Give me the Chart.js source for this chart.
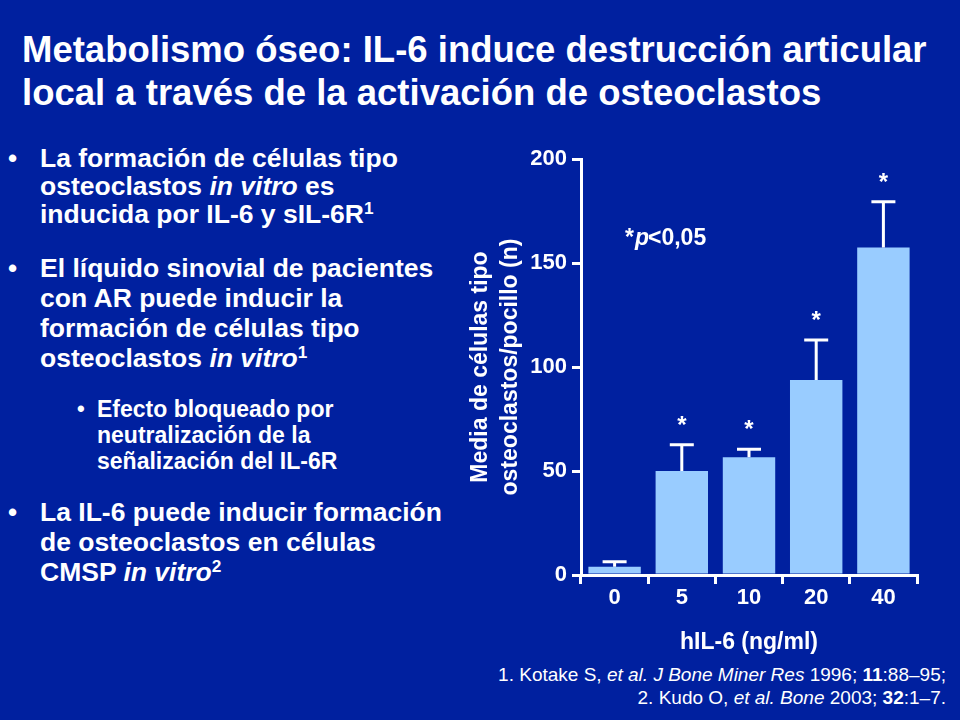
<!DOCTYPE html>
<html>
<head>
<meta charset="utf-8">
<script src="https://cdn.jsdelivr.net/npm/chart.js@4"></script>
<style>
  body { margin: 0; background: #00209f; width: 960px; height: 720px; overflow: hidden;
         font-family: "Liberation Sans", Arial, sans-serif; color: #fff; position: relative; }
  .t { position: absolute; white-space: nowrap; }
  .title { left: 22px; font-size: 36.5px; font-weight: bold; line-height: 40px; }
  .b { font-size: 26.5px; font-weight: bold; left: 40px; line-height: 28px; }
  .dot { position: absolute; left: 8px; font-size: 26px; font-weight: bold; line-height: 28px; }
  .s { font-size: 23px; font-weight: bold; left: 97px; line-height: 24px; }
  .sdot { position: absolute; left: 77px; font-size: 22px; font-weight: bold; line-height: 24px; }
  .ref { right: 14px; font-size: 19px; line-height: 20px; text-align: right; }
  sup { font-size: 0.65em; line-height: 0; vertical-align: 0.55em; }
  #wrap { position: absolute; left: 460px; top: 140px; width: 480px; height: 520px; }
</style>
</head>
<body>
<div class="t title" style="top:30px">Metabolismo óseo: IL-6 induce destrucción articular</div>
<div class="t title" style="top:73px">local a través de la activación de osteoclastos</div>

<div class="dot" style="top:144px">•</div>
<div class="t b" style="top:144px">La formación de células tipo</div>
<div class="t b" style="top:172px">osteoclastos <i>in vitro</i> es</div>
<div class="t b" style="top:200px">inducida por IL-6 y sIL-6R<sup>1</sup></div>

<div class="dot" style="top:254px">•</div>
<div class="t b" style="top:254px">El líquido sinovial de pacientes</div>
<div class="t b" style="top:284px">con AR puede inducir la</div>
<div class="t b" style="top:314px">formación de células tipo</div>
<div class="t b" style="top:344px">osteoclastos <i>in vitro</i><sup>1</sup></div>

<div class="sdot" style="top:397px">•</div>
<div class="t s" style="top:397px">Efecto bloqueado por</div>
<div class="t s" style="top:423px">neutralización de la</div>
<div class="t s" style="top:449px">señalización del IL-6R</div>

<div class="dot" style="top:498px">•</div>
<div class="t b" style="top:498px">La IL-6 puede inducir formación</div>
<div class="t b" style="top:528px">de osteoclastos en células</div>
<div class="t b" style="top:558px">CMSP <i>in vitro</i><sup>2</sup></div>

<div class="t ref" style="top:665px">1. Kotake S, <i>et al. J Bone Miner Res</i> 1996; <b>11</b>:88–95;</div>
<div class="t ref" style="top:688px">2. Kudo O, <i>et al. Bone</i> 2003; <b>32</b>:1–7.</div>

<div id="wrap"><canvas id="myChart"></canvas></div>

<script>
// chart values
var doses = ["0", "5", "10", "20", "40"];
var meanCells = [4, 50, 56.6, 93.8, 157.4];
var errorTop = [6.4, 62.6, 60.5, 113, 179.5];
var significant = [false, true, true, true, true];
var yTicks = [0, 50, 100, 150, 200];

// error bars + asterisks
const errorBarPlugin = {
  id: "errorBars",
  afterDatasetsDraw(chart) {
    const ctx = chart.ctx;
    const y = chart.scales.y;
    const meta = chart.getDatasetMeta(0);
    ctx.save();
    ctx.strokeStyle = "#ffffff";
    ctx.lineWidth = 3;
    ctx.fillStyle = "#ffffff";
    ctx.font = "bold 24px 'Liberation Sans', Arial";
    ctx.textAlign = "center";
    meta.data.forEach(function (bar, i) {
      var x = bar.x;
      var yTop = y.getPixelForValue(errorTop[i]);
      ctx.beginPath();
      ctx.moveTo(x, bar.y);
      ctx.lineTo(x, yTop);
      ctx.moveTo(x - 12, yTop);
      ctx.lineTo(x + 12, yTop);
      ctx.stroke();
      if (significant[i]) {
        ctx.fillText("*", x, yTop - 12);
      }
    });
    ctx.font = "bold 23px 'Liberation Sans', Arial";
    ctx.textAlign = "left";
    ctx.textBaseline = "middle";
    ctx.fillText("*", 165, 99);
    ctx.font = "italic bold 23px 'Liberation Sans', Arial";
    ctx.fillText("p", 175, 99);
    ctx.font = "bold 23px 'Liberation Sans', Arial";
    ctx.fillText("<0,05", 188, 99);
    ctx.restore();
  }
};

function renderChart() {
  const data = {
    labels: doses,
    datasets: [
      {
        data: meanCells,
        backgroundColor: "#99ccff",
        borderWidth: 0,
        categoryPercentage: 0.78,
        barPercentage: 1,
      },
    ],
  };

  const config = {
    type: "bar",
    data: data,
    options: {
      responsive: false,
      animation: false,
      layout: { padding: { top: 19, right: 23, left: 0, bottom: 0 } },
      plugins: { legend: { display: false }, tooltip: { enabled: false } },
      scales: {
        x: {
          offset: true,
          grid: { offset: true, drawOnChartArea: false, color: "#ffffff", lineWidth: 3, tickLength: 9 },
          border: { color: "#ffffff", width: 3 },
          ticks: { color: "#ffffff", font: { size: 22, weight: "bold", family: "Liberation Sans" }, padding: 1 },
          title: { display: true, text: "hIL-6 (ng/ml)", color: "#ffffff",
                   font: { size: 23, weight: "bold", family: "Liberation Sans" }, padding: { top: 16 } },
          afterFit: function (s) { s.height = 85; },
        },
        y: {
          min: 0,
          max: 200,
          afterBuildTicks: function (s) { s.ticks = yTicks.map(function (v) { return { value: v }; }); },
          grid: { drawOnChartArea: false, color: "#ffffff", lineWidth: 3, tickLength: 9 },
          border: { color: "#ffffff", width: 3 },
          ticks: { color: "#ffffff", font: { size: 22, weight: "bold", family: "Liberation Sans" }, padding: 5 },
          title: { display: true, text: ["Media de células tipo", "osteoclastos/pocillo (n)"], color: "#ffffff",
                   font: { size: 23, weight: "bold", family: "Liberation Sans", lineHeight: 1.3 }, padding: { top: 6, bottom: 0 } },
          afterFit: function (s) { s.width = 121; },
        },
      },
    },
    plugins: [errorBarPlugin],
  };

  const myChart = new Chart(document.getElementById("myChart"), config);
}

var cv = document.getElementById("myChart");
cv.width = 480;
cv.height = 520;
renderChart();
</script>
</body>
</html>
